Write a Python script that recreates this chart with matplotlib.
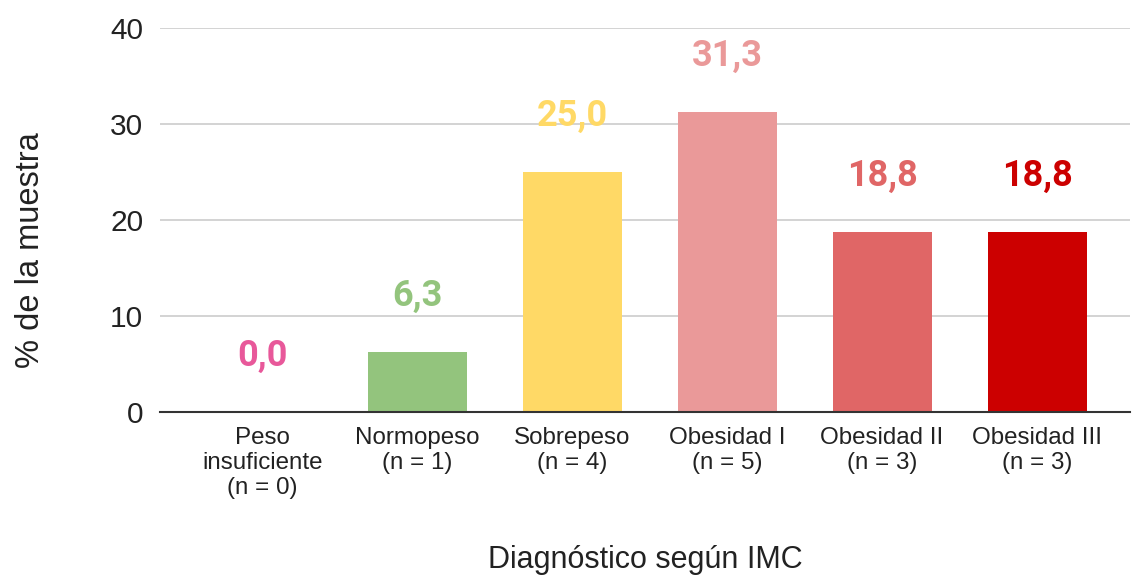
import matplotlib
matplotlib.use("Agg")
import matplotlib.pyplot as plt

plt.rcParams['font.family'] = ['Liberation Sans', 'DejaVu Sans']

# BMI categories and share of the sample (%)
categorias = ['Peso\ninsuficiente\n(n = 0)', 'Normopeso\n(n = 1)', 'Sobrepeso\n(n = 4)',
              'Obesidad I\n(n = 5)', 'Obesidad II\n(n = 3)', 'Obesidad III\n(n = 3)']
porcentajes = [0.0, 6.3, 25.0, 31.3, 18.8, 18.8]
colores = ['#E8589A', '#93C47D', '#FFD966', '#EA9999', '#E06666', '#CC0000']
yticks = [0, 10, 20, 30, 40]

fig = plt.figure(figsize=(11.32, 5.79), dpi=100)
ax = fig.add_axes([0.1413, 0.2884, 0.857, 0.6632])

x = range(len(categorias))
ax.bar(x, porcentajes, width=0.64, color=colores, zorder=2)

# value labels above each bar
for xi, v, c in zip(x, porcentajes, colores):
    ax.annotate(f'{v:.1f}'.replace('.', ','), (xi, v), xytext=(0, 56),
                textcoords='offset pixels', ha='center', va='center',
                fontsize=26, fontweight='bold', color=c, zorder=3,
                family=['Roboto', 'DejaVu Sans'])

ax.set_xlim(-0.66, 5.6)
ax.set_ylim(0, 40)
ax.set_yticks(yticks)
ax.set_yticklabels([str(t) for t in yticks], fontsize=21.5, color='#222222')
ax.set_xticks(list(x))
ax.set_xticklabels(categorias, fontsize=17.4, color='#222222', linespacing=1.17)
ax.tick_params(length=0, axis='y', pad=12)
ax.tick_params(length=0, axis='x', pad=11)

ax.grid(axis='y', color='#cccccc', linewidth=1.2, zorder=0)
for s in ['top', 'right', 'left']:
    ax.spines[s].set_visible(False)
ax.spines['bottom'].set_color('#333333')
ax.spines['bottom'].set_linewidth(1.5)
ax.spines['bottom'].set_zorder(3)

fig.text(0.027, 0.568, '% de la muestra', ha='center', va='center', rotation=90,
         fontsize=23.5, color='#222222')
fig.text(0.570, 0.033, 'Diagnóstico según IMC', ha='center', va='center',
         fontsize=22, color='#222222')

fig.savefig('out.png', dpi=100)
